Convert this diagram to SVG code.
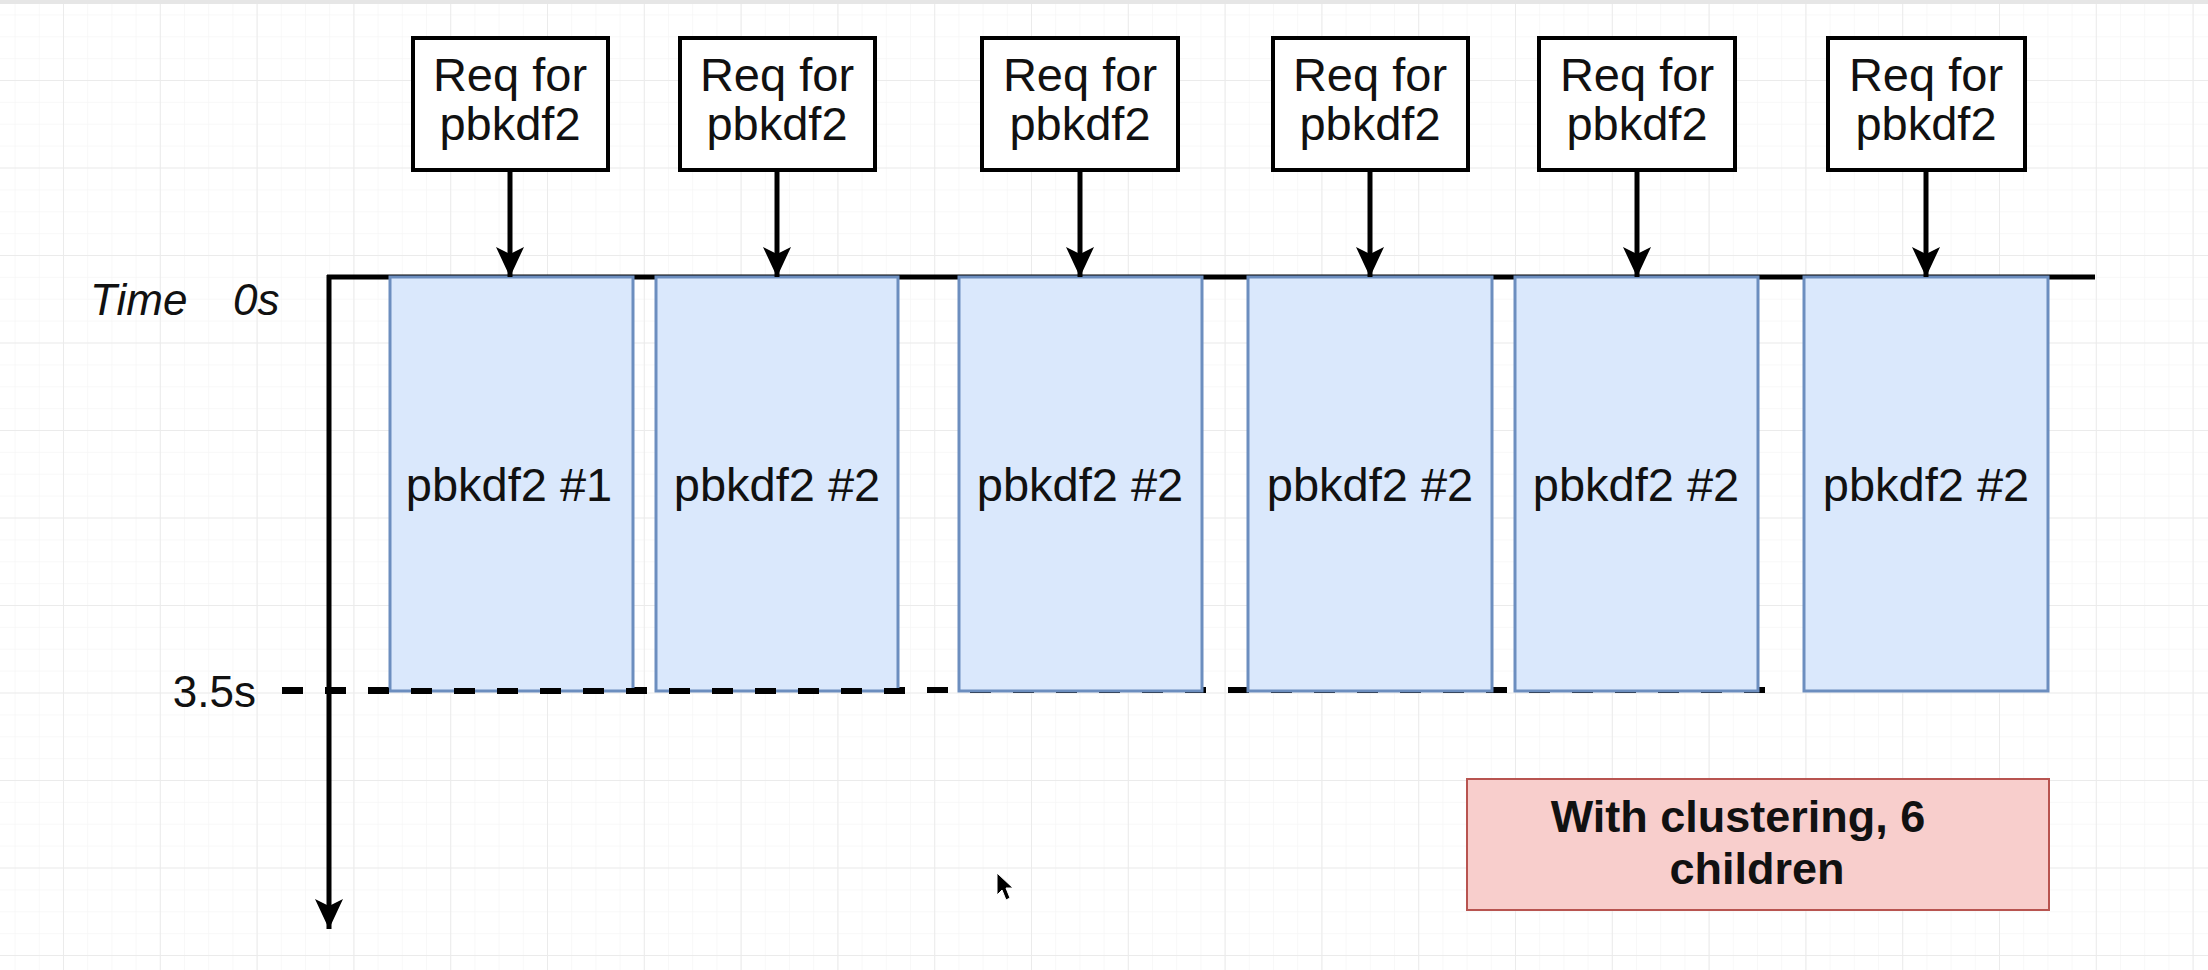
<svg xmlns="http://www.w3.org/2000/svg" width="2208" height="970" viewBox="0 0 2208 970">
<defs>
<pattern id="minor" x="63" y="80" width="24.2" height="21.875" patternUnits="userSpaceOnUse">
<path d="M0 0V21.875M0 0H24.2" fill="none" stroke="#f6f6f6" stroke-width="1.5"/>
</pattern>
<pattern id="major" x="63" y="80" width="96.8" height="87.5" patternUnits="userSpaceOnUse">
<path d="M0 0V87.5M0 0H96.8" fill="none" stroke="#ebebeb" stroke-width="2"/>
</pattern>
<marker id="ah" viewBox="0 0 30 30" refX="30" refY="15" markerWidth="30" markerHeight="30" markerUnits="userSpaceOnUse" orient="auto">
<path d="M0 1L30 15L0 29L7 15Z" fill="#000"/>
</marker>
<style>
.req rect{fill:#fff;stroke:#000;stroke-width:4}
.req text,.job text{font-family:"Liberation Sans",Arial,sans-serif;font-size:47px;fill:#111;text-anchor:middle}
.job rect{fill:#dae8fc;stroke:#6c8ebf;stroke-width:3}
.conn line{stroke:#000;stroke-width:5}
.lbl{font-family:"Liberation Sans",Arial,sans-serif;font-size:44px;fill:#111}
.dash{stroke:#000;stroke-width:6;stroke-dasharray:21 22}
.note{font-family:"Liberation Sans",Arial,sans-serif;font-size:45px;font-weight:bold;text-anchor:middle;fill:#111}
</style>
</defs>
<rect width="2208" height="970" fill="#fff"/>
<rect width="2208" height="970" fill="url(#minor)"/>
<rect width="2208" height="970" fill="url(#major)"/>
<rect x="0" y="0" width="2208" height="4" fill="#e6e6e6"/>

<g id="axes">
<line class="dash" x1="282" y1="690" x2="1782" y2="690"/>
<line x1="327" y1="277" x2="2095" y2="277" stroke="#000" stroke-width="5"/>
</g>

<g id="job1" class="job"><rect x="390" y="277" width="243" height="414"/><text x="509" y="501">pbkdf2 #1</text></g>
<g id="job2" class="job"><rect x="656" y="277" width="242" height="414"/><text x="777" y="501">pbkdf2 #2</text></g>
<g id="job3" class="job"><rect x="959" y="277" width="243" height="414"/><text x="1080" y="501">pbkdf2 #2</text></g>
<g id="job4" class="job"><rect x="1248" y="277" width="244" height="414"/><text x="1370" y="501">pbkdf2 #2</text></g>
<g id="job5" class="job"><rect x="1515" y="277" width="243" height="414"/><text x="1636" y="501">pbkdf2 #2</text></g>
<g id="job6" class="job"><rect x="1804" y="277" width="244" height="414"/><text x="1926" y="501">pbkdf2 #2</text></g>

<g id="axis-front">
<line class="dash" x1="282" y1="691" x2="912" y2="691"/>
<line x1="329" y1="275" x2="329" y2="929" stroke="#000" stroke-width="5" marker-end="url(#ah)"/>
</g>

<g id="req1" class="req"><rect x="413" y="38" width="195" height="132"/><text x="510" y="91">Req for</text><text x="510" y="140">pbkdf2</text></g>
<g id="req2" class="req"><rect x="680" y="38" width="195" height="132"/><text x="777" y="91">Req for</text><text x="777" y="140">pbkdf2</text></g>
<g id="req3" class="req"><rect x="982" y="38" width="196" height="132"/><text x="1080" y="91">Req for</text><text x="1080" y="140">pbkdf2</text></g>
<g id="req4" class="req"><rect x="1273" y="38" width="195" height="132"/><text x="1370" y="91">Req for</text><text x="1370" y="140">pbkdf2</text></g>
<g id="req5" class="req"><rect x="1539" y="38" width="196" height="132"/><text x="1637" y="91">Req for</text><text x="1637" y="140">pbkdf2</text></g>
<g id="req6" class="req"><rect x="1828" y="38" width="197" height="132"/><text x="1926" y="91">Req for</text><text x="1926" y="140">pbkdf2</text></g>

<g id="connectors" class="conn">
<line x1="510" y1="172" x2="510" y2="277" marker-end="url(#ah)"/>
<line x1="777" y1="172" x2="777" y2="277" marker-end="url(#ah)"/>
<line x1="1080" y1="172" x2="1080" y2="277" marker-end="url(#ah)"/>
<line x1="1370" y1="172" x2="1370" y2="277" marker-end="url(#ah)"/>
<line x1="1637" y1="172" x2="1637" y2="277" marker-end="url(#ah)"/>
<line x1="1926" y1="172" x2="1926" y2="277" marker-end="url(#ah)"/>
</g>

<g id="labels">
<text class="lbl" x="90" y="315" font-style="italic">Time</text>
<text class="lbl" x="233" y="315" font-style="italic">0s</text>
<text class="lbl" x="256" y="707" text-anchor="end">3.5s</text>
</g>

<g id="note">
<rect x="1467" y="779" width="582" height="131" fill="#f8cecc" stroke="#b85450" stroke-width="2"/>
<text class="note" x="1738" y="832">With clustering, 6</text>
<text class="note" x="1757" y="884">children</text>
</g>

<path d="M997 873L997 895L1002 890L1006 900L1010 898L1006 888L1013 888Z" fill="#000" stroke="#fff" stroke-width="1"/>
</svg>
